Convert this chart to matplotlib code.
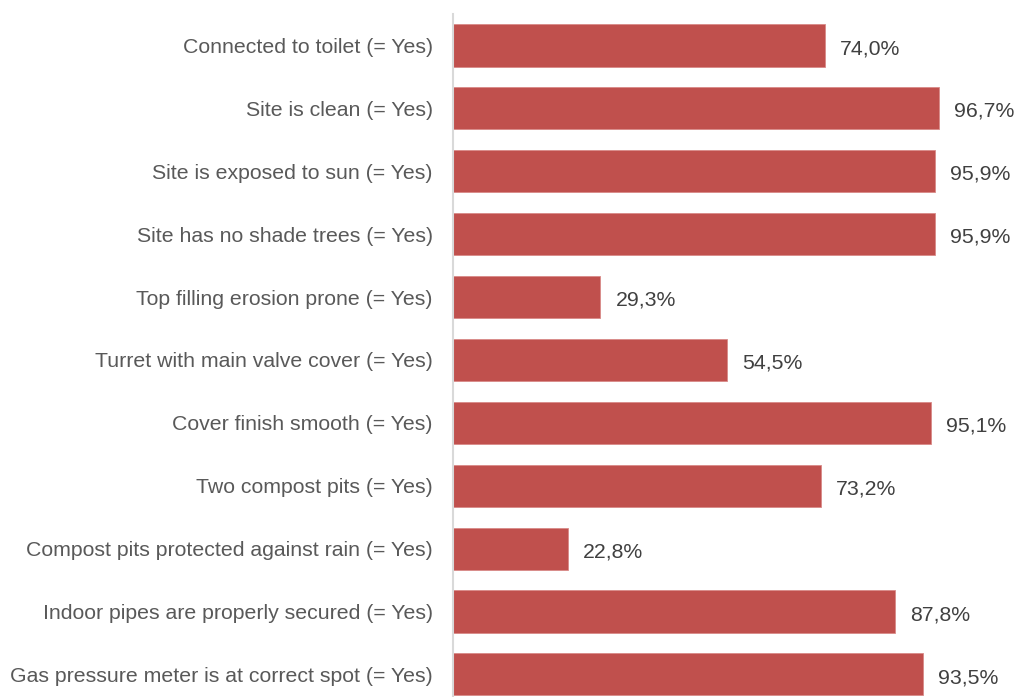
import numpy as np
import matplotlib.pyplot as plt

plt.rcParams['font.family'] = ['Liberation Sans', 'DejaVu Sans']

categories = [
    "Connected to toilet (= Yes)",
    "Site is clean (= Yes)",
    "Site is exposed to sun (= Yes)",
    "Site has no shade trees (= Yes)",
    "Top filling erosion prone (= Yes)",
    "Turret with main valve cover (= Yes)",
    "Cover finish smooth (= Yes)",
    "Two compost pits (= Yes)",
    "Compost pits protected against rain (= Yes)",
    "Indoor pipes are properly secured (= Yes)",
    "Gas pressure meter is at correct spot (= Yes)",
]
values = [74.0, 96.7, 95.9, 95.9, 29.3, 54.5, 95.1, 73.2, 22.8, 87.8, 93.5]

W, H = 1016, 697
fig = plt.figure(figsize=(W / 100, H / 100), dpi=100)
ax = fig.add_axes([453 / W, 0, 503 / W, (H - 14) / H])

y = np.arange(len(categories))
ax.barh(y, values, height=0.67, color="#C0504D", edgecolor="#D98A88", linewidth=0.6)

# value labels, decimal comma, sitting a touch below bar centre
for yi, v in zip(y, values):
    ax.text(v + 3.0, yi + 0.05, f"{v:.1f}".replace(".", ",") + "%",
            va="center", ha="left", fontsize=15.3, color="#404040")

ax.set_xlim(0, 100)
ax.set_ylim(10.36, -0.5)
ax.set_yticks(y)
ax.set_yticklabels(categories, fontsize=15.3, color="#595959")
ax.tick_params(axis="y", length=0, pad=14.5)
ax.set_xticks([])
for s in ["top", "right", "bottom"]:
    ax.spines[s].set_visible(False)
ax.spines["left"].set_color("#D9D9D9")
ax.spines["left"].set_linewidth(1.5)

fig.savefig("out.png", dpi=100)
